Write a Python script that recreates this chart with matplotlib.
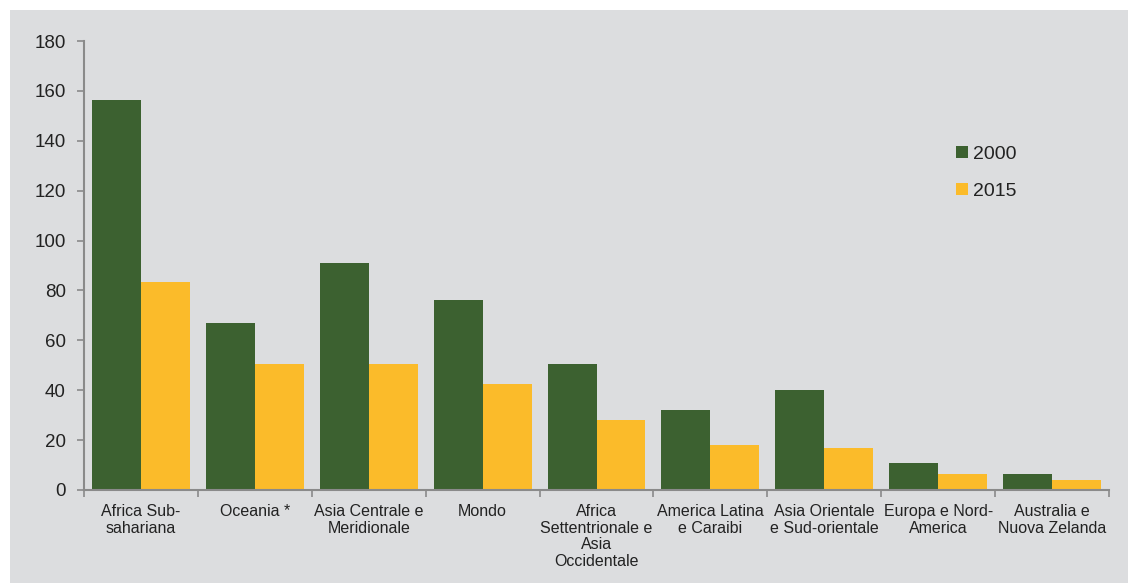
import matplotlib.pyplot as plt
import numpy as np
from matplotlib.patches import Rectangle

categorie = ["Africa Sub-\nsahariana", "Oceania *", "Asia Centrale e\nMeridionale", "Mondo",
             "Africa\nSettentrionale e\nAsia\nOccidentale", "America Latina\ne Caraibi",
             "Asia Orientale\ne Sud-orientale", "Europa e Nord-\nAmerica", "Australia e\nNuova Zelanda"]
valori_2000 = [156.5, 67, 91, 76, 50.5, 32, 40, 10.8, 6.6]
valori_2015 = [83.5, 50.5, 50.5, 42.5, 28, 18, 17, 6.3, 4.2]

plt.rcParams['font.family'] = ['Liberation Sans', 'DejaVu Sans']
sfondo = '#dcdddf'
grigio = '#8a8a8a'

fig = plt.figure(figsize=(11.28, 5.83), dpi=100, facecolor='white')
fig.patches.append(Rectangle((10 / 1128, 0), 1, 1 - 10 / 583, transform=fig.transFigure,
                             facecolor=sfondo, edgecolor='none', zorder=-10))
ax = fig.add_axes([84 / 1128, 1 - 490 / 583, 1025 / 1128, 449 / 583])
ax.set_zorder(1)
ax.set_facecolor(sfondo)

x = np.arange(len(categorie))
w = 0.43
ax.bar(x - w / 2, valori_2000, w, color='#3c6130', label='2000')
ax.bar(x + w / 2, valori_2015, w, color='#fbbb2a', label='2015')

ax.set_xlim(-0.5, len(categorie) - 0.5)
ax.set_ylim(0, 180)
ax.set_yticks(np.arange(0, 181, 20))
ax.tick_params(axis='y', direction='out', length=5, color=grigio, width=1.2,
               labelsize=13.5, labelcolor='#222222', pad=8)

ax.set_xticks(np.arange(-0.5, len(categorie), 1))
ax.set_xticklabels([])
ax.set_xticks(x, minor=True)
ax.set_xticklabels(categorie, minor=True, fontsize=11.5, color='#222222', linespacing=1.15)
ax.tick_params(axis='x', which='major', direction='out', length=5, color=grigio, width=1.2)
ax.tick_params(axis='x', which='minor', length=0, pad=10)

for s in ['top', 'right']:
    ax.spines[s].set_visible(False)
for s in ['left', 'bottom']:
    ax.spines[s].set_color(grigio)
    ax.spines[s].set_linewidth(1.5)

ax.legend(loc='upper left', bbox_to_anchor=(0.834, 0.805), frameon=False, fontsize=14,
          handlelength=0.6, handleheight=0.6, handletextpad=0.25, labelspacing=1.0,
          labelcolor='#222222')

fig.savefig('out.png', dpi=100, facecolor='white')
